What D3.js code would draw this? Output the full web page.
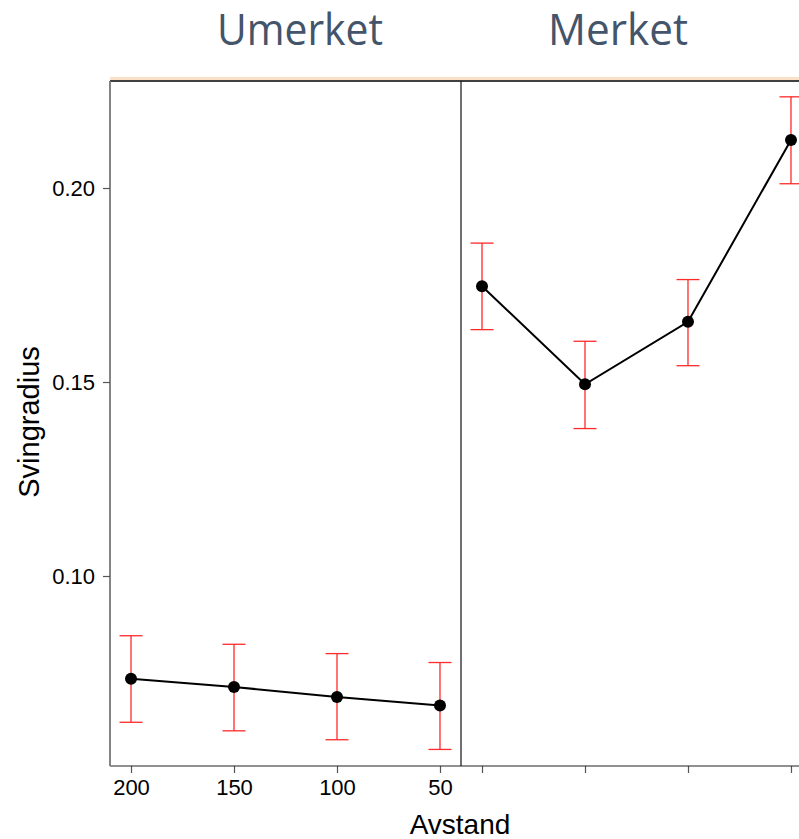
<!DOCTYPE html>
<html><head><meta charset="utf-8">
<script src="https://cdn.jsdelivr.net/npm/d3@7"></script>
<style>body{margin:0;background:#fff}svg{display:block}</style>
</head><body>
<script>
const distances = [200, 150, 100, 50];
const panelTitles = ["Umerket", "Merket"];
const umerketMean  = [0.0735, 0.0714, 0.0688, 0.0666];
const umerketLower = [0.0623, 0.0601, 0.0578, 0.0553];
const umerketUpper = [0.0846, 0.0824, 0.0800, 0.0777];
const merketMean   = [0.1747, 0.1494, 0.1655, 0.2124];
const merketLower  = [0.1635, 0.1380, 0.1542, 0.2011];
const merketUpper  = [0.1858, 0.1605, 0.1764, 0.2235];
const yTicks = [0.10, 0.15, 0.20];
const xLabel = "Avstand", yLabel = "Svingradius";

(function () {
const W = 799, H = 839;
const plotTop = 81, plotBottom = 766, plotLeft = 110, panelW = 351;
const svg = d3.select("body").append("svg").attr("width", W).attr("height", H);

const y = d3.scaleLinear().domain([0.05103, 0.22758]).range([plotBottom, plotTop]);

const series = [
  {mean: umerketMean, lo: umerketLower, hi: umerketUpper},
  {mean: merketMean, lo: merketLower, hi: merketUpper}
];

svg.append("line").attr("x1", plotLeft).attr("x2", W).attr("y1", plotTop - 2.5).attr("y2", plotTop - 2.5)
  .attr("stroke", "#fbe0c8").attr("stroke-width", 3);

series.forEach((s, i) => {
  const x0 = plotLeft + i * panelW;
  const x = d3.scaleLinear().domain([210.2, 39.8]).range([x0, x0 + panelW]);
  const g = svg.append("g");
  const ax = g.append("g").attr("transform", `translate(0,${plotBottom})`)
    .call(d3.axisBottom(x).tickValues(distances).tickSize(7).tickPadding(6)
      .tickFormat(i === 0 ? d3.format("d") : () => ""));
  ax.select(".domain").remove();
  ax.selectAll(".tick line").attr("stroke", "#555").attr("stroke-width", 1.2);
  ax.selectAll("text").attr("font-family", "Liberation Sans, Arial, sans-serif")
    .attr("font-size", 22).attr("fill", "#000");
  g.append("line").attr("x1", x0).attr("x2", x0 + panelW).attr("y1", plotTop).attr("y2", plotTop)
    .attr("stroke", "#000").attr("stroke-width", 1.5);
  g.append("line").attr("x1", x0).attr("x2", x0 + panelW).attr("y1", plotBottom).attr("y2", plotBottom)
    .attr("stroke", "#222").attr("stroke-width", 1.2);
  g.append("line").attr("x1", x0).attr("x2", x0).attr("y1", plotTop).attr("y2", plotBottom)
    .attr("stroke", i === 0 ? "#777" : "#111").attr("stroke-width", i === 0 ? 1.8 : 1.2);
  g.append("text").attr("x", x0 + (i === 0 ? 190 : 157)).attr("y", 45).attr("text-anchor", "middle")
    .attr("font-family", "Open Sans, sans-serif").attr("font-size", 43).attr("fill", "#44546a")
    .attr("textLength", i === 0 ? 166 : 140).attr("lengthAdjust", "spacingAndGlyphs")
    .text(panelTitles[i]);
  const eb = g.append("g").attr("stroke", "#ff2a2a").attr("stroke-width", 1.3);
  distances.forEach((d, j) => {
    const cx = x(d);
    eb.append("line").attr("x1", cx).attr("x2", cx).attr("y1", y(s.lo[j])).attr("y2", y(s.hi[j]));
    eb.append("line").attr("x1", cx - 11.5).attr("x2", cx + 11.5).attr("y1", y(s.lo[j])).attr("y2", y(s.lo[j]));
    eb.append("line").attr("x1", cx - 11.5).attr("x2", cx + 11.5).attr("y1", y(s.hi[j])).attr("y2", y(s.hi[j]));
  });
  g.append("path").datum(distances.map((d, j) => [x(d), y(s.mean[j])]))
    .attr("d", d3.line()).attr("fill", "none").attr("stroke", "#000").attr("stroke-width", 2);
  g.selectAll("circle.pt").data(distances).join("circle")
    .attr("cx", d => x(d)).attr("cy", (d, j) => y(s.mean[j])).attr("r", 6).attr("fill", "#000");
});

const ay = svg.append("g").attr("transform", `translate(${plotLeft},0)`)
  .call(d3.axisLeft(y).tickValues(yTicks).tickFormat(d3.format(".2f")).tickSize(7).tickPadding(8));
ay.select(".domain").remove();
ay.selectAll(".tick line").attr("stroke", "#555").attr("stroke-width", 1.2);
ay.selectAll("text").attr("font-family", "Liberation Sans, Arial, sans-serif")
  .attr("font-size", 22).attr("fill", "#000");

svg.append("text").attr("x", 460).attr("y", 834).attr("text-anchor", "middle")
  .attr("font-family", "Liberation Sans, Arial, sans-serif").attr("font-size", 28).text(xLabel);
svg.append("text").attr("transform", "translate(39,422) rotate(-90)").attr("text-anchor", "middle")
  .attr("font-family", "Liberation Sans, Arial, sans-serif").attr("font-size", 29).text(yLabel);
})();
</script>
</body></html>
